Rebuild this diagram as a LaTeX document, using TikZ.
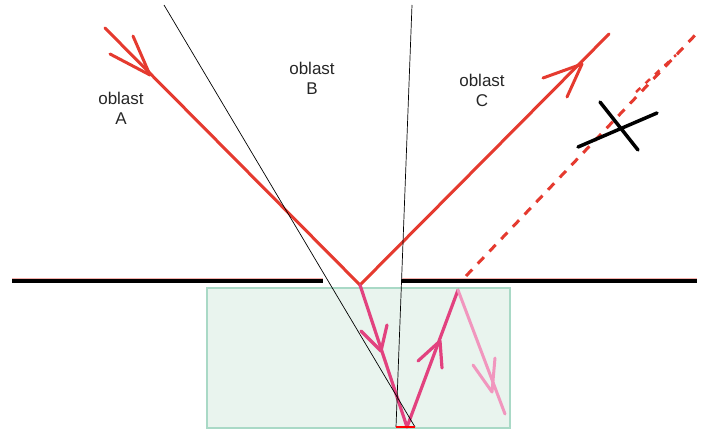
\documentclass[tikz,border=0pt]{standalone}
\usepackage{fontspec}
\setmainfont{Liberation Sans}
\definecolor{rayred}{HTML}{E53A2F}
\definecolor{raypink}{HTML}{E2427F}
\definecolor{raylight}{HTML}{F196BE}
\definecolor{glassfill}{HTML}{E9F4EE}
\definecolor{glassedge}{HTML}{A9D9C6}
\tikzset{
    ray/.style={rayred,line width=3pt,line cap=round,line join=round},
    inray/.style={raypink,line width=3.2pt,line cap=round,line join=round},
    outray/.style={raylight,line width=3pt,line cap=round,line join=round},
    lbl/.style={font=\fontsize{17}{20}\selectfont,align=center,text=black!85}
}
\begin{document}
\begin{tikzpicture}[x=1pt,y=-1pt]
                \useasboundingbox (0,0) rectangle (701,431);
                % glass block
                \fill[glassfill] (207,288) rectangle (510,428);
                \draw[glassedge,line width=1.5pt] (207,288) rectangle (510,428);
                % surface
                \draw[rayred!40,line width=1pt] (12,278) -- (323,278) (402,278) -- (697,278);
                \draw[line width=4.5pt] (12,281) -- (323,281) (402,281) -- (697,281);

                \coordinate (hit) at (360,285);
                \coordinate (bottom) at (407,427);
                \coordinate (exit) at (458,290);

                % incident and reflected ray
                \draw[ray] (105,28) -- (hit) -- (609,34);
                \draw[ray] (133,36) -- (150,75) -- (110,54);
                \draw[ray] (543,78) -- (582,64) -- (567,97);
                % rays in the glass
                \draw[inray] (hit) -- (bottom) -- (exit);
                \draw[inray] (361,331) -- (381,351) -- (387,325);
                \draw[inray] (418,361) -- (440,341) -- (442,368);
                \draw[outray] (exit) -- (505,414);
                \draw[outray] (473,365) -- (492,392) -- (495,358);
                % blocked ray
                \draw[ray,dashed,dash pattern=on 9pt off 8pt,line cap=butt] (466,276) -- (700,30);
                \draw[ray,dashed,dash pattern=on 6pt off 7pt,line width=2.5pt,line cap=butt] (636,92) -- (676,55);
                \draw[line width=3.5pt,line cap=round] (578,147) -- (657,113) (600,102) -- (638,150);
                % limit lines
                \draw[line width=0.7pt] (164,5) -- (415,427);
                \draw[line width=0.7pt] (412,5) -- (396,427);
                \draw[red,line width=2.5pt] (396,427) -- (415,427);
                % labels
                \node[lbl] (oblA) at (121,108) {oblast\\A};
                \node[lbl] (oblB) at (312,78) {oblast\\B};
                \node[lbl] (oblC) at (482,90) {oblast\\C};
            \end{tikzpicture}
\end{document}
